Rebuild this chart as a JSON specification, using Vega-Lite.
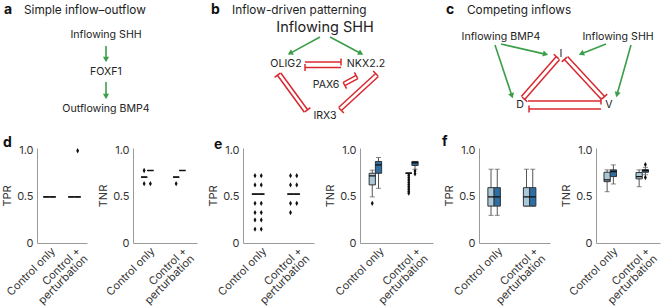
{
  "$schema": "https://vega.github.io/schema/vega-lite/v6.json",
  "padding": {"left": 1, "top": 1, "right": 0, "bottom": 0},
  "background": "white",
  "config": {
    "view": {"stroke": null},
    "font": "Inter",
    "axis": {"domainColor": "#9a9a9a", "domainWidth": 1, "ticks": false, "grid": false, "labelFont": "Inter", "labelFontSize": 11, "labelColor": "#333", "titleFont": "Inter", "titleFontSize": 11, "titleFontWeight": "normal", "titleColor": "#333"},
    "axisY": {"values": [0, 0.5, 1], "labelFlush": false, "labelPadding": 4, "titlePadding": 4, "labelExpr": "datum.value == 0 ? '0' : format(datum.value, '.1f')"},
    "axisX": {"title": null, "labelAngle": -45, "labelAlign": "right", "labelBaseline": "top", "labelPadding": 2, "labelLineHeight": 10.5, "labelExpr": "datum.value == 'Control + perturbation' ? ['Control +', 'perturbation'] : datum.value"}
  },
  "datasets": {
    "letters": [
      {"x": 1, "y": 9, "t": "a"}, {"x": 208, "y": 9, "t": "b"}, {"x": 443, "y": 9, "t": "c"},
      {"x": 0, "y": 142, "t": "d"}, {"x": 211, "y": 144, "t": "e"}, {"x": 439, "y": 141, "t": "f"}
    ],
    "titles": [
      {"x": 21, "y": 9, "t": "Simple inflow–outflow"},
      {"x": 229, "y": 9, "t": "Inflow-driven patterning"},
      {"x": 464, "y": 9, "t": "Competing inflows"}
    ],
    "nodes": [
      {"x": 103, "y": 34, "t": "Inflowing SHH"}, {"x": 103, "y": 71, "t": "FOXF1"}, {"x": 103, "y": 108, "t": "Outflowing BMP4"},
      {"x": 283, "y": 63, "t": "OLIG2"}, {"x": 363, "y": 63, "t": "NKX2.2"}, {"x": 323, "y": 84, "t": "PAX6"}, {"x": 322, "y": 115, "t": "IRX3"},
      {"x": 498, "y": 36, "t": "Inflowing BMP4"}, {"x": 615, "y": 36, "t": "Inflowing SHH"},
      {"x": 558, "y": 53, "t": "I"}, {"x": 517, "y": 104, "t": "D"}, {"x": 606, "y": 104, "t": "V"}
    ],
    "bignodes": [{"x": 322, "y": 27, "t": "Inflowing SHH"}],
    "arrows": [
      {"x": 103, "y": 45, "x2": 103, "y2": 57},
      {"x": 103, "y": 81, "x2": 103, "y2": 94},
      {"x": 317, "y": 36, "x2": 288.4, "y2": 51.6},
      {"x": 327, "y": 36, "x2": 356.6, "y2": 51.7},
      {"x": 498, "y": 43, "x2": 541.1, "y2": 52.9},
      {"x": 492, "y": 44, "x2": 508.4, "y2": 93.3},
      {"x": 603, "y": 43, "x2": 579.7, "y2": 52.2},
      {"x": 628, "y": 44, "x2": 614.4, "y2": 92.2}
    ],
    "heads": [
      {"x": 103, "y": 58.5, "angle": 180}, {"x": 103, "y": 95.5, "angle": 180},
      {"x": 287.1, "y": 52.3, "angle": 241.4}, {"x": 357.9, "y": 52.4, "angle": 117.9},
      {"x": 542.6, "y": 53.2, "angle": 102.9}, {"x": 508.9, "y": 94.7, "angle": 161.6},
      {"x": 578.3, "y": 52.7, "angle": 248.6}, {"x": 614, "y": 93.6, "angle": 195.8}
    ],
    "inhib": [
      {"x": 302, "y": 61, "x2": 338, "y2": 61}, {"x": 338, "y": 57.5, "x2": 338, "y2": 64.5},
      {"x": 302, "y": 66.5, "x2": 338, "y2": 66.5}, {"x": 302, "y": 63, "x2": 302, "y2": 70},
      {"x": 340.1, "y": 81.4, "x2": 353.1, "y2": 74.4}, {"x": 354.8, "y": 77.5, "x2": 351.4, "y2": 71.3},
      {"x": 341.9, "y": 84.6, "x2": 354.9, "y2": 77.6}, {"x": 343.6, "y": 87.7, "x2": 340.2, "y2": 81.5},
      {"x": 274.4, "y": 74.2, "x2": 301.4, "y2": 111.2}, {"x": 277.2, "y": 72.1, "x2": 271.6, "y2": 76.3},
      {"x": 277.6, "y": 71.8, "x2": 304.6, "y2": 108.8}, {"x": 307.4, "y": 106.7, "x2": 301.8, "y2": 110.9},
      {"x": 372.6, "y": 72.5, "x2": 335.6, "y2": 106.5}, {"x": 375.0, "y": 75.1, "x2": 370.2, "y2": 69.9},
      {"x": 375.4, "y": 75.5, "x2": 338.4, "y2": 109.5}, {"x": 340.8, "y": 112.1, "x2": 336.0, "y2": 106.9},
      {"x": 553.3, "y": 55.6, "x2": 518.3, "y2": 95.6}, {"x": 555.9, "y": 57.9, "x2": 550.7, "y2": 53.3},
      {"x": 556.7, "y": 58.4, "x2": 521.7, "y2": 98.4}, {"x": 524.3, "y": 100.7, "x2": 519.1, "y2": 96.1},
      {"x": 564.6, "y": 55.5, "x2": 601.6, "y2": 95.5}, {"x": 604.2, "y": 93.1, "x2": 599.0, "y2": 97.9},
      {"x": 561.4, "y": 58.5, "x2": 598.4, "y2": 98.5}, {"x": 564.0, "y": 56.1, "x2": 558.8, "y2": 60.9},
      {"x": 525, "y": 100, "x2": 598, "y2": 100}, {"x": 598, "y": 96.5, "x2": 598, "y2": 103.5},
      {"x": 526, "y": 108, "x2": 598, "y2": 108}, {"x": 526, "y": 104.5, "x2": 526, "y2": 111.5}
    ],
    "stats": [
      {"plot": "d1", "group": "Control only", "series": "s1", "lo": 0.5, "q1": 0.5, "med": 0.5, "q3": 0.5, "hi": 0.5},
      {"plot": "d1", "group": "Control only", "series": "s2", "lo": 0.5, "q1": 0.5, "med": 0.5, "q3": 0.5, "hi": 0.5},
      {"plot": "d1", "group": "Control + perturbation", "series": "s1", "lo": 0.5, "q1": 0.5, "med": 0.5, "q3": 0.5, "hi": 0.5},
      {"plot": "d1", "group": "Control + perturbation", "series": "s2", "lo": 0.5, "q1": 0.5, "med": 0.5, "q3": 0.5, "hi": 0.5},
      {"plot": "d2", "group": "Control only", "series": "s1", "lo": 0.714, "q1": 0.714, "med": 0.714, "q3": 0.714, "hi": 0.714},
      {"plot": "d2", "group": "Control only", "series": "s2", "lo": 0.786, "q1": 0.786, "med": 0.786, "q3": 0.786, "hi": 0.786},
      {"plot": "d2", "group": "Control + perturbation", "series": "s1", "lo": 0.714, "q1": 0.714, "med": 0.714, "q3": 0.714, "hi": 0.714},
      {"plot": "d2", "group": "Control + perturbation", "series": "s2", "lo": 0.786, "q1": 0.786, "med": 0.786, "q3": 0.786, "hi": 0.786},
      {"plot": "e1", "group": "Control only", "series": "s1", "lo": 0.53, "q1": 0.53, "med": 0.53, "q3": 0.53, "hi": 0.53},
      {"plot": "e1", "group": "Control only", "series": "s2", "lo": 0.53, "q1": 0.53, "med": 0.53, "q3": 0.53, "hi": 0.53},
      {"plot": "e1", "group": "Control + perturbation", "series": "s1", "lo": 0.53, "q1": 0.53, "med": 0.53, "q3": 0.53, "hi": 0.53},
      {"plot": "e1", "group": "Control + perturbation", "series": "s2", "lo": 0.53, "q1": 0.53, "med": 0.53, "q3": 0.53, "hi": 0.53},
      {"plot": "e2", "group": "Control only", "series": "s1", "lo": 0.5, "q1": 0.63, "med": 0.727, "q3": 0.756, "hi": 0.79},
      {"plot": "e2", "group": "Control only", "series": "s2", "lo": 0.593, "q1": 0.756, "med": 0.847, "q3": 0.884, "hi": 0.927},
      {"plot": "e2", "group": "Control + perturbation", "series": "s1", "lo": 0.756, "q1": 0.756, "med": 0.756, "q3": 0.756, "hi": 0.756},
      {"plot": "e2", "group": "Control + perturbation", "series": "s2", "lo": 0.8, "q1": 0.84, "med": 0.87, "q3": 0.884, "hi": 0.884},
      {"plot": "f1", "group": "Control only", "series": "s1", "lo": 0.3, "q1": 0.4, "med": 0.5, "q3": 0.6, "hi": 0.8},
      {"plot": "f1", "group": "Control only", "series": "s2", "lo": 0.3, "q1": 0.4, "med": 0.5, "q3": 0.6, "hi": 0.8},
      {"plot": "f1", "group": "Control + perturbation", "series": "s1", "lo": 0.4, "q1": 0.4, "med": 0.5, "q3": 0.6, "hi": 0.8},
      {"plot": "f1", "group": "Control + perturbation", "series": "s2", "lo": 0.4, "q1": 0.4, "med": 0.5, "q3": 0.6, "hi": 0.8},
      {"plot": "f2", "group": "Control only", "series": "s1", "lo": 0.556, "q1": 0.665, "med": 0.684, "q3": 0.767, "hi": 0.793},
      {"plot": "f2", "group": "Control only", "series": "s2", "lo": 0.64, "q1": 0.72, "med": 0.775, "q3": 0.793, "hi": 0.847},
      {"plot": "f2", "group": "Control + perturbation", "series": "s1", "lo": 0.61, "q1": 0.695, "med": 0.72, "q3": 0.764, "hi": 0.793},
      {"plot": "f2", "group": "Control + perturbation", "series": "s2", "lo": 0.74, "q1": 0.767, "med": 0.785, "q3": 0.796, "hi": 0.82}
    ],
    "outliers": [
      {"plot": "d1", "group": "Control + perturbation", "series": "s2", "value": 1.0},
      {"plot": "d2", "group": "Control only", "series": "s1", "value": 0.786},
      {"plot": "d2", "group": "Control only", "series": "s1", "value": 0.643},
      {"plot": "d2", "group": "Control only", "series": "s2", "value": 0.643},
      {"plot": "d2", "group": "Control + perturbation", "series": "s1", "value": 0.643},
      {"plot": "e1", "group": "Control only", "series": "s1", "value": 0.73},
      {"plot": "e1", "group": "Control only", "series": "s1", "value": 0.63},
      {"plot": "e1", "group": "Control only", "series": "s1", "value": 0.43},
      {"plot": "e1", "group": "Control only", "series": "s1", "value": 0.33},
      {"plot": "e1", "group": "Control only", "series": "s1", "value": 0.25},
      {"plot": "e1", "group": "Control only", "series": "s1", "value": 0.15},
      {"plot": "e1", "group": "Control only", "series": "s2", "value": 0.73},
      {"plot": "e1", "group": "Control only", "series": "s2", "value": 0.63},
      {"plot": "e1", "group": "Control only", "series": "s2", "value": 0.43},
      {"plot": "e1", "group": "Control only", "series": "s2", "value": 0.33},
      {"plot": "e1", "group": "Control only", "series": "s2", "value": 0.25},
      {"plot": "e1", "group": "Control only", "series": "s2", "value": 0.15},
      {"plot": "e1", "group": "Control + perturbation", "series": "s1", "value": 0.73},
      {"plot": "e1", "group": "Control + perturbation", "series": "s1", "value": 0.63},
      {"plot": "e1", "group": "Control + perturbation", "series": "s1", "value": 0.43},
      {"plot": "e1", "group": "Control + perturbation", "series": "s1", "value": 0.33},
      {"plot": "e1", "group": "Control + perturbation", "series": "s2", "value": 0.73},
      {"plot": "e1", "group": "Control + perturbation", "series": "s2", "value": 0.63},
      {"plot": "e1", "group": "Control + perturbation", "series": "s2", "value": 0.43},
      {"plot": "e2", "group": "Control only", "series": "s1", "value": 0.43},
      {"plot": "e2", "group": "Control + perturbation", "series": "s1", "value": 0.735},
      {"plot": "e2", "group": "Control + perturbation", "series": "s1", "value": 0.71},
      {"plot": "e2", "group": "Control + perturbation", "series": "s1", "value": 0.685},
      {"plot": "e2", "group": "Control + perturbation", "series": "s1", "value": 0.66},
      {"plot": "e2", "group": "Control + perturbation", "series": "s1", "value": 0.635},
      {"plot": "e2", "group": "Control + perturbation", "series": "s1", "value": 0.61},
      {"plot": "e2", "group": "Control + perturbation", "series": "s1", "value": 0.585},
      {"plot": "e2", "group": "Control + perturbation", "series": "s1", "value": 0.56},
      {"plot": "e2", "group": "Control + perturbation", "series": "s1", "value": 0.54},
      {"plot": "e2", "group": "Control + perturbation", "series": "s2", "value": 0.78},
      {"plot": "e2", "group": "Control + perturbation", "series": "s2", "value": 0.75},
      {"plot": "f2", "group": "Control + perturbation", "series": "s2", "value": 0.85},
      {"plot": "f2", "group": "Control + perturbation", "series": "s2", "value": 0.71}
    ]
  },
  "bounds": "flush",
  "spacing": 0,
  "vconcat": [
    {
      "width": 627,
      "height": 147,
      "encoding": {
        "x": {"field": "x", "type": "quantitative", "scale": {"domain": [34, 661], "nice": false, "zero": false}, "axis": null},
        "y": {"field": "y", "type": "quantitative", "scale": {"domain": [0, 147], "nice": false, "zero": false, "reverse": true}, "axis": null}
      },
      "layer": [
        {"data": {"name": "arrows"}, "mark": {"type": "rule", "color": "#3a9f48", "strokeWidth": 1.6}, "encoding": {"x2": {"field": "x2"}, "y2": {"field": "y2"}}},
        {"data": {"name": "heads"}, "mark": {"type": "point", "shape": "triangle-up", "filled": true, "color": "#3a9f48", "size": 38, "opacity": 1}, "encoding": {"angle": {"field": "angle", "type": "quantitative", "scale": {"domain": [0, 360], "range": [0, 360]}}}},
        {"data": {"name": "inhib"}, "mark": {"type": "rule", "color": "#d8282f", "strokeWidth": 1.5}, "encoding": {"x2": {"field": "x2"}, "y2": {"field": "y2"}}},
        {"data": {"name": "letters"}, "mark": {"type": "text", "align": "left", "baseline": "middle", "fontSize": 14, "fontWeight": "bold", "color": "#111"}, "encoding": {"text": {"field": "t"}}},
        {"data": {"name": "titles"}, "mark": {"type": "text", "align": "left", "baseline": "middle", "fontSize": 11.8, "color": "#222"}, "encoding": {"text": {"field": "t"}}},
        {"data": {"name": "nodes"}, "mark": {"type": "text", "align": "center", "baseline": "middle", "fontSize": 10.6, "color": "#222"}, "encoding": {"text": {"field": "t"}}},
        {"data": {"name": "bignodes"}, "mark": {"type": "text", "align": "center", "baseline": "middle", "fontSize": 14.5, "color": "#222"}, "encoding": {"text": {"field": "t"}}}
      ]
    },
    {
      "bounds": "flush",
      "spacing": 46,
      "hconcat": [
        {
          "width": 50, "height": 95,
          "encoding": {
            "x": {"field": "group", "type": "nominal", "scale": {"domain": ["Control only", "Control + perturbation"], "paddingInner": 0.5, "paddingOuter": 0.25}},
            "xOffset": {"field": "series", "type": "nominal", "scale": {"domain": ["s1", "s2"], "paddingInner": 0, "paddingOuter": 0}}
          },
          "layer": [
            {"data": {"name": "stats"}, "transform": [{"filter": "datum.plot == 'd1'"}], "mark": {"type": "rule", "color": "#555", "strokeWidth": 1}, "encoding": {"y": {"field": "lo", "type": "quantitative", "scale": {"domain": [0, 1.03], "nice": false}, "title": "TPR"}, "y2": {"field": "hi"}}},
            {"data": {"name": "stats"}, "transform": [{"filter": "datum.plot == 'd1'"}], "mark": {"type": "tick", "color": "#555", "size": 5, "thickness": 1}, "encoding": {"y": {"field": "hi", "type": "quantitative", "title": "TPR"}}},
            {"data": {"name": "stats"}, "transform": [{"filter": "datum.plot == 'd1'"}], "mark": {"type": "tick", "color": "#555", "size": 5, "thickness": 1}, "encoding": {"y": {"field": "lo", "type": "quantitative", "title": "TPR"}}},
            {"data": {"name": "stats"}, "transform": [{"filter": "datum.plot == 'd1'"}], "mark": {"type": "bar", "stroke": "#333", "strokeWidth": 1}, "encoding": {"y": {"field": "q1", "type": "quantitative", "title": "TPR"}, "y2": {"field": "q3"}, "color": {"field": "series", "type": "nominal", "scale": {"domain": ["s1", "s2"], "range": ["#a9c8da", "#2d6fa5"]}, "legend": null}}},
            {"data": {"name": "stats"}, "transform": [{"filter": "datum.plot == 'd1'"}], "mark": {"type": "bar", "stroke": "#111", "strokeWidth": 1.3, "fillOpacity": 0}, "encoding": {"y": {"field": "med", "type": "quantitative", "title": "TPR"}, "y2": {"field": "med"}}},
            {"data": {"name": "outliers"}, "transform": [{"filter": "datum.plot == 'd1'"}], "mark": {"type": "point", "shape": "M0,-1L0.55,0L0,1L-0.55,0Z", "filled": true, "color": "#111", "size": 28, "opacity": 1}, "encoding": {"y": {"field": "value", "type": "quantitative", "title": "TPR"}}}
          ]
        },
        {
          "width": 64, "height": 95,
          "encoding": {
            "x": {"field": "group", "type": "nominal", "scale": {"domain": ["Control only", "Control + perturbation"], "paddingInner": 0.5, "paddingOuter": 0.25}},
            "xOffset": {"field": "series", "type": "nominal", "scale": {"domain": ["s1", "s2"], "paddingInner": 0, "paddingOuter": 0}}
          },
          "layer": [
            {"data": {"name": "stats"}, "transform": [{"filter": "datum.plot == 'd2'"}], "mark": {"type": "rule", "color": "#555", "strokeWidth": 1}, "encoding": {"y": {"field": "lo", "type": "quantitative", "scale": {"domain": [0, 1.03], "nice": false}, "title": "TNR"}, "y2": {"field": "hi"}}},
            {"data": {"name": "stats"}, "transform": [{"filter": "datum.plot == 'd2'"}], "mark": {"type": "tick", "color": "#555", "size": 5, "thickness": 1}, "encoding": {"y": {"field": "hi", "type": "quantitative", "title": "TNR"}}},
            {"data": {"name": "stats"}, "transform": [{"filter": "datum.plot == 'd2'"}], "mark": {"type": "tick", "color": "#555", "size": 5, "thickness": 1}, "encoding": {"y": {"field": "lo", "type": "quantitative", "title": "TNR"}}},
            {"data": {"name": "stats"}, "transform": [{"filter": "datum.plot == 'd2'"}], "mark": {"type": "bar", "stroke": "#333", "strokeWidth": 1}, "encoding": {"y": {"field": "q1", "type": "quantitative", "title": "TNR"}, "y2": {"field": "q3"}, "color": {"field": "series", "type": "nominal", "scale": {"domain": ["s1", "s2"], "range": ["#a9c8da", "#2d6fa5"]}, "legend": null}}},
            {"data": {"name": "stats"}, "transform": [{"filter": "datum.plot == 'd2'"}], "mark": {"type": "bar", "stroke": "#111", "strokeWidth": 1.3, "fillOpacity": 0}, "encoding": {"y": {"field": "med", "type": "quantitative", "title": "TNR"}, "y2": {"field": "med"}}},
            {"data": {"name": "outliers"}, "transform": [{"filter": "datum.plot == 'd2'"}], "mark": {"type": "point", "shape": "M0,-1L0.55,0L0,1L-0.55,0Z", "filled": true, "color": "#111", "size": 28, "opacity": 1}, "encoding": {"y": {"field": "value", "type": "quantitative", "title": "TNR"}}}
          ]
        },
        {
          "width": 71, "height": 95,
          "encoding": {
            "x": {"field": "group", "type": "nominal", "scale": {"domain": ["Control only", "Control + perturbation"], "paddingInner": 0.5, "paddingOuter": 0.25}},
            "xOffset": {"field": "series", "type": "nominal", "scale": {"domain": ["s1", "s2"], "paddingInner": 0, "paddingOuter": 0}}
          },
          "layer": [
            {"data": {"name": "stats"}, "transform": [{"filter": "datum.plot == 'e1'"}], "mark": {"type": "rule", "color": "#555", "strokeWidth": 1}, "encoding": {"y": {"field": "lo", "type": "quantitative", "scale": {"domain": [0, 1.03], "nice": false}, "title": "TPR"}, "y2": {"field": "hi"}}},
            {"data": {"name": "stats"}, "transform": [{"filter": "datum.plot == 'e1'"}], "mark": {"type": "tick", "color": "#555", "size": 5, "thickness": 1}, "encoding": {"y": {"field": "hi", "type": "quantitative", "title": "TPR"}}},
            {"data": {"name": "stats"}, "transform": [{"filter": "datum.plot == 'e1'"}], "mark": {"type": "tick", "color": "#555", "size": 5, "thickness": 1}, "encoding": {"y": {"field": "lo", "type": "quantitative", "title": "TPR"}}},
            {"data": {"name": "stats"}, "transform": [{"filter": "datum.plot == 'e1'"}], "mark": {"type": "bar", "stroke": "#333", "strokeWidth": 1}, "encoding": {"y": {"field": "q1", "type": "quantitative", "title": "TPR"}, "y2": {"field": "q3"}, "color": {"field": "series", "type": "nominal", "scale": {"domain": ["s1", "s2"], "range": ["#a9c8da", "#2d6fa5"]}, "legend": null}}},
            {"data": {"name": "stats"}, "transform": [{"filter": "datum.plot == 'e1'"}], "mark": {"type": "bar", "stroke": "#111", "strokeWidth": 1.3, "fillOpacity": 0}, "encoding": {"y": {"field": "med", "type": "quantitative", "title": "TPR"}, "y2": {"field": "med"}}},
            {"data": {"name": "outliers"}, "transform": [{"filter": "datum.plot == 'e1'"}], "mark": {"type": "point", "shape": "M0,-1L0.55,0L0,1L-0.55,0Z", "filled": true, "color": "#111", "size": 28, "opacity": 1}, "encoding": {"y": {"field": "value", "type": "quantitative", "title": "TPR"}}}
          ]
        },
        {
          "width": 73, "height": 95,
          "encoding": {
            "x": {"field": "group", "type": "nominal", "scale": {"domain": ["Control only", "Control + perturbation"], "paddingInner": 0.5, "paddingOuter": 0.25}},
            "xOffset": {"field": "series", "type": "nominal", "scale": {"domain": ["s1", "s2"], "paddingInner": 0, "paddingOuter": 0}}
          },
          "layer": [
            {"data": {"name": "stats"}, "transform": [{"filter": "datum.plot == 'e2'"}], "mark": {"type": "rule", "color": "#555", "strokeWidth": 1}, "encoding": {"y": {"field": "lo", "type": "quantitative", "scale": {"domain": [0, 1.03], "nice": false}, "title": "TNR"}, "y2": {"field": "hi"}}},
            {"data": {"name": "stats"}, "transform": [{"filter": "datum.plot == 'e2'"}], "mark": {"type": "tick", "color": "#555", "size": 5, "thickness": 1}, "encoding": {"y": {"field": "hi", "type": "quantitative", "title": "TNR"}}},
            {"data": {"name": "stats"}, "transform": [{"filter": "datum.plot == 'e2'"}], "mark": {"type": "tick", "color": "#555", "size": 5, "thickness": 1}, "encoding": {"y": {"field": "lo", "type": "quantitative", "title": "TNR"}}},
            {"data": {"name": "stats"}, "transform": [{"filter": "datum.plot == 'e2'"}], "mark": {"type": "bar", "stroke": "#333", "strokeWidth": 1}, "encoding": {"y": {"field": "q1", "type": "quantitative", "title": "TNR"}, "y2": {"field": "q3"}, "color": {"field": "series", "type": "nominal", "scale": {"domain": ["s1", "s2"], "range": ["#a9c8da", "#2d6fa5"]}, "legend": null}}},
            {"data": {"name": "stats"}, "transform": [{"filter": "datum.plot == 'e2'"}], "mark": {"type": "bar", "stroke": "#111", "strokeWidth": 1.3, "fillOpacity": 0}, "encoding": {"y": {"field": "med", "type": "quantitative", "title": "TNR"}, "y2": {"field": "med"}}},
            {"data": {"name": "outliers"}, "transform": [{"filter": "datum.plot == 'e2'"}], "mark": {"type": "point", "shape": "M0,-1L0.55,0L0,1L-0.55,0Z", "filled": true, "color": "#111", "size": 28, "opacity": 1}, "encoding": {"y": {"field": "value", "type": "quantitative", "title": "TNR"}}}
          ]
        },
        {
          "width": 71, "height": 95,
          "encoding": {
            "x": {"field": "group", "type": "nominal", "scale": {"domain": ["Control only", "Control + perturbation"], "paddingInner": 0.5, "paddingOuter": 0.25}},
            "xOffset": {"field": "series", "type": "nominal", "scale": {"domain": ["s1", "s2"], "paddingInner": 0, "paddingOuter": 0}}
          },
          "layer": [
            {"data": {"name": "stats"}, "transform": [{"filter": "datum.plot == 'f1'"}], "mark": {"type": "rule", "color": "#555", "strokeWidth": 1}, "encoding": {"y": {"field": "lo", "type": "quantitative", "scale": {"domain": [0, 1.03], "nice": false}, "title": "TPR"}, "y2": {"field": "hi"}}},
            {"data": {"name": "stats"}, "transform": [{"filter": "datum.plot == 'f1'"}], "mark": {"type": "tick", "color": "#555", "size": 5, "thickness": 1}, "encoding": {"y": {"field": "hi", "type": "quantitative", "title": "TPR"}}},
            {"data": {"name": "stats"}, "transform": [{"filter": "datum.plot == 'f1'"}], "mark": {"type": "tick", "color": "#555", "size": 5, "thickness": 1}, "encoding": {"y": {"field": "lo", "type": "quantitative", "title": "TPR"}}},
            {"data": {"name": "stats"}, "transform": [{"filter": "datum.plot == 'f1'"}], "mark": {"type": "bar", "stroke": "#333", "strokeWidth": 1}, "encoding": {"y": {"field": "q1", "type": "quantitative", "title": "TPR"}, "y2": {"field": "q3"}, "color": {"field": "series", "type": "nominal", "scale": {"domain": ["s1", "s2"], "range": ["#a9c8da", "#2d6fa5"]}, "legend": null}}},
            {"data": {"name": "stats"}, "transform": [{"filter": "datum.plot == 'f1'"}], "mark": {"type": "bar", "stroke": "#111", "strokeWidth": 1.3, "fillOpacity": 0}, "encoding": {"y": {"field": "med", "type": "quantitative", "title": "TPR"}, "y2": {"field": "med"}}}
          ]
        },
        {
          "width": 64, "height": 95,
          "encoding": {
            "x": {"field": "group", "type": "nominal", "scale": {"domain": ["Control only", "Control + perturbation"], "paddingInner": 0.5, "paddingOuter": 0.25}},
            "xOffset": {"field": "series", "type": "nominal", "scale": {"domain": ["s1", "s2"], "paddingInner": 0, "paddingOuter": 0}}
          },
          "layer": [
            {"data": {"name": "stats"}, "transform": [{"filter": "datum.plot == 'f2'"}], "mark": {"type": "rule", "color": "#555", "strokeWidth": 1}, "encoding": {"y": {"field": "lo", "type": "quantitative", "scale": {"domain": [0, 1.03], "nice": false}, "title": "TNR"}, "y2": {"field": "hi"}}},
            {"data": {"name": "stats"}, "transform": [{"filter": "datum.plot == 'f2'"}], "mark": {"type": "tick", "color": "#555", "size": 5, "thickness": 1}, "encoding": {"y": {"field": "hi", "type": "quantitative", "title": "TNR"}}},
            {"data": {"name": "stats"}, "transform": [{"filter": "datum.plot == 'f2'"}], "mark": {"type": "tick", "color": "#555", "size": 5, "thickness": 1}, "encoding": {"y": {"field": "lo", "type": "quantitative", "title": "TNR"}}},
            {"data": {"name": "stats"}, "transform": [{"filter": "datum.plot == 'f2'"}], "mark": {"type": "bar", "stroke": "#333", "strokeWidth": 1}, "encoding": {"y": {"field": "q1", "type": "quantitative", "title": "TNR"}, "y2": {"field": "q3"}, "color": {"field": "series", "type": "nominal", "scale": {"domain": ["s1", "s2"], "range": ["#a9c8da", "#2d6fa5"]}, "legend": null}}},
            {"data": {"name": "stats"}, "transform": [{"filter": "datum.plot == 'f2'"}], "mark": {"type": "bar", "stroke": "#111", "strokeWidth": 1.3, "fillOpacity": 0}, "encoding": {"y": {"field": "med", "type": "quantitative", "title": "TNR"}, "y2": {"field": "med"}}},
            {"data": {"name": "outliers"}, "transform": [{"filter": "datum.plot == 'f2'"}], "mark": {"type": "point", "shape": "M0,-1L0.55,0L0,1L-0.55,0Z", "filled": true, "color": "#111", "size": 28, "opacity": 1}, "encoding": {"y": {"field": "value", "type": "quantitative", "title": "TNR"}}}
          ]
        }
      ]
    }
  ]
}
